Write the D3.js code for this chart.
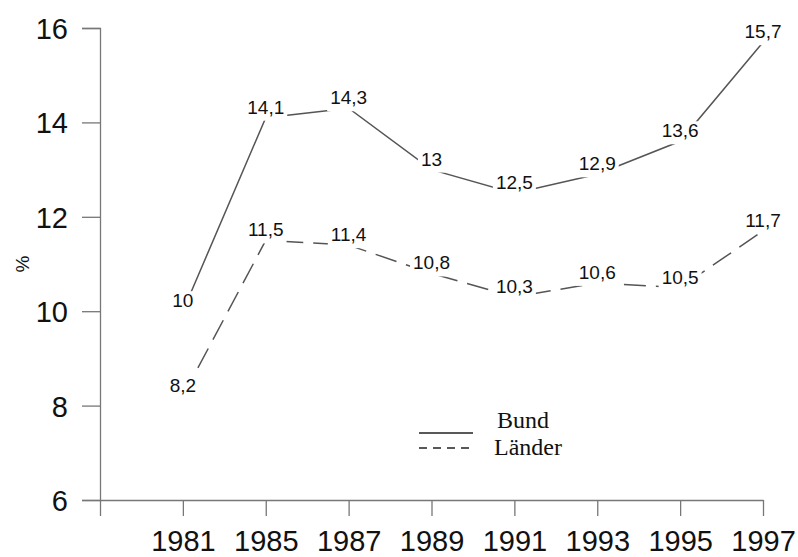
<!DOCTYPE html>
<html>
<head>
<meta charset="utf-8">
<script src="https://cdn.jsdelivr.net/npm/d3@7"></script>
<style>
  body { margin: 0; background: #fff; }
  svg { display: block; }
</style>
</head>
<body>
<svg id="chart" width="798" height="557"></svg>
<script>
const years = ["1981", "1985", "1987", "1989", "1991", "1993", "1995", "1997"];
const bund = [10, 14.1, 14.3, 13, 12.5, 12.9, 13.6, 15.7];
const laender = [8.2, 11.5, 11.4, 10.8, 10.3, 10.6, 10.5, 11.7];
const yTicks = [6, 8, 10, 12, 14, 16];
const seriesNames = ["Bund", "Länder"];

const svg = d3.select("#chart");
const width = 798, height = 557;
const margin = { top: 28, right: 35, bottom: 57, left: 100 };

// first slot is empty: the axis origin carries a tick but no year
const x = d3.scalePoint()
    .domain([""].concat(years))
    .range([margin.left, width - margin.right]);

const y = d3.scaleLinear()
    .domain([6, 16])
    .range([height - margin.bottom, margin.top]);

const axisColor = "#777";
const lineColor = "#555";

const yAxis = svg.append("g")
    .attr("transform", `translate(${margin.left},0)`)
    .call(d3.axisLeft(y).tickValues(yTicks).tickSize(18).tickPadding(14).tickFormat(d3.format("d")));

const xAxis = svg.append("g")
    .attr("transform", `translate(0,${height - margin.bottom})`)
    .call(d3.axisBottom(x).tickSize(16).tickPadding(14).tickSizeOuter(0));

[yAxis, xAxis].forEach(a => {
    a.select(".domain").attr("stroke", axisColor).attr("stroke-width", 1.3);
    a.selectAll(".tick line").attr("stroke", axisColor).attr("stroke-width", 1.3);
    a.selectAll(".tick text")
        .attr("fill", "#111")
        .style("font-family", "'Liberation Sans', Arial, sans-serif")
        .style("font-size", "29px");
});
yAxis.selectAll(".tick text").attr("dy", "0.36em");
xAxis.selectAll(".tick text").attr("dy", "0.72em");

svg.append("text")
    .attr("transform", `translate(29,${y(11)}) rotate(-90)`)
    .attr("text-anchor", "middle")
    .attr("fill", "#111")
    .style("font-family", "'Liberation Sans', Arial, sans-serif")
    .style("font-size", "19px")
    .text("%");

const line = d3.line()
    .x((d, i) => x(years[i]))
    .y(d => y(d));

svg.append("path")
    .datum(bund)
    .attr("fill", "none")
    .attr("stroke", lineColor)
    .attr("stroke-width", 1.5)
    .attr("d", line);

svg.append("path")
    .datum(laender)
    .attr("fill", "none")
    .attr("stroke", lineColor)
    .attr("stroke-width", 1.5)
    .attr("stroke-dasharray", "22,10")
    .attr("d", line);

// value labels sit on white boxes that cut the lines
const fmt = v => String(v).replace(".", ",");
[bund, laender].forEach(series => {
    const lab = svg.append("g");
    series.forEach((v, i) => {
        const g = lab.append("g");
        const t = g.append("text")
            .attr("x", x(years[i]))
            .attr("y", y(v) - 4)
            .attr("text-anchor", "middle")
            .attr("fill", "#111")
            .style("font-family", "'Liberation Sans', Arial, sans-serif")
            .style("font-size", "19px")
            .text(fmt(v));
        const b = t.node().getBBox();
        g.insert("rect", "text")
            .attr("x", b.x - 3)
            .attr("y", b.y + 1)
            .attr("width", b.width + 6)
            .attr("height", b.height + 2)
            .attr("fill", "#fff");
    });
});

// legend
const legend = svg.append("g");
const legendRows = [
    { name: seriesNames[0], y: 433, dash: null, tx: 497, ty: 428 },
    { name: seriesNames[1], y: 448, dash: "8,6", tx: 494, ty: 455 }
];
legendRows.forEach(r => {
    legend.append("line")
        .attr("x1", 419).attr("x2", 473)
        .attr("y1", r.y).attr("y2", r.y)
        .attr("stroke", "#222")
        .attr("stroke-width", 1.6)
        .attr("stroke-dasharray", r.dash);
    legend.append("text")
        .attr("x", r.tx)
        .attr("y", r.ty)
        .attr("fill", "#111")
        .style("font-family", "'Liberation Serif', 'Times New Roman', serif")
        .style("font-size", "24px")
        .text(r.name);
});
</script>
</body>
</html>
